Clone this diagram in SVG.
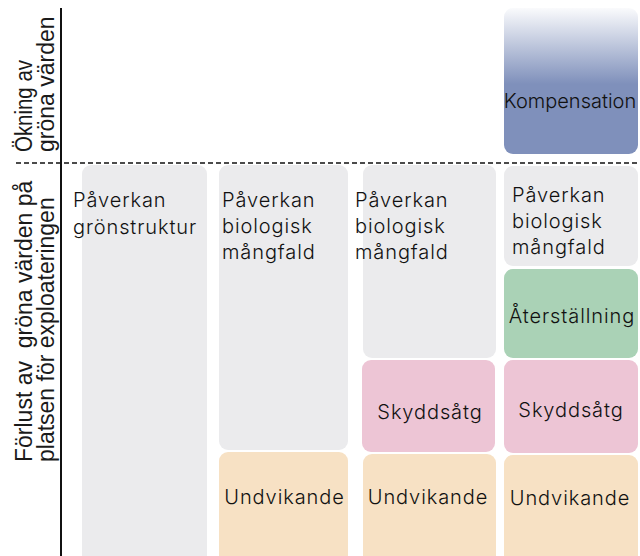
<svg xmlns="http://www.w3.org/2000/svg" width="640" height="556" viewBox="0 0 640 556">
  <style>
    .box { font-family: Inter, "Open Sans", "Liberation Sans", sans-serif; font-size: 20px; font-weight: 300; letter-spacing: 0.9px; fill: #111; }
    .mid { text-anchor: middle; }
    .axis { font-family: "Liberation Sans", Arial, sans-serif; font-size: 23px; fill: #1a1a1a; }
    .gray { fill: #ebebed; }
    .orange { fill: #f7e1c4; }
    .pink { fill: #edc5d5; }
    .green { fill: #aad2b6; }
  </style>
  <defs>
    <linearGradient id="blueGrad" gradientUnits="userSpaceOnUse" x1="0" y1="8" x2="0" y2="84">
      <stop offset="0" stop-color="#7f90bb" stop-opacity="0.04"/>
      <stop offset="1" stop-color="#7f90bb" stop-opacity="1"/>
    </linearGradient>
  </defs>
  <rect width="640" height="556" fill="#ffffff"/>

  <g id="col1">
    <rect class="gray" x="82" y="165" width="125" height="405" rx="9"/>
    <text class="box" x="73" y="207">Påverkan</text>
    <text class="box" x="73" y="234">grönstruktur</text>
  </g>

  <g id="col2-paverkan">
    <rect class="gray" x="219" y="165" width="129" height="285" rx="9"/>
    <text class="box" x="222" y="207">Påverkan</text>
    <text class="box" x="222" y="233">biologisk</text>
    <text class="box" x="222" y="259">mångfald</text>
  </g>
  <g id="col2-undvikande">
    <rect class="orange" x="219" y="452" width="129" height="118" rx="9"/>
    <text class="box mid" x="284.5" y="504">Undvikande</text>
  </g>

  <g id="col3-paverkan">
    <rect class="gray" x="363" y="165" width="133" height="193" rx="9"/>
    <text class="box" x="355" y="207">Påverkan</text>
    <text class="box" x="355" y="233">biologisk</text>
    <text class="box" x="355" y="259">mångfald</text>
  </g>
  <g id="col3-skyddsatg">
    <rect class="pink" x="362" y="360" width="133" height="92" rx="9"/>
    <text class="box mid" x="430" y="419">Skyddsåtg</text>
  </g>
  <g id="col3-undvikande">
    <rect class="orange" x="363" y="454" width="133" height="116" rx="9"/>
    <text class="box mid" x="428" y="504">Undvikande</text>
  </g>

  <g id="col4-kompensation">
    <rect x="504" y="8" width="134" height="146" rx="9" fill="url(#blueGrad)"/>
    <text class="box mid" x="570" y="108" style="letter-spacing:0">Kompensation</text>
  </g>
  <g id="col4-paverkan">
    <rect class="gray" x="504" y="166" width="134" height="100" rx="9"/>
    <text class="box" x="512" y="202">Påverkan</text>
    <text class="box" x="512" y="228">biologisk</text>
    <text class="box" x="512" y="254">mångfald</text>
  </g>
  <g id="col4-aterstallning">
    <rect class="green" x="504" y="269" width="134" height="89" rx="9"/>
    <text class="box mid" x="572" y="323">Återställning</text>
  </g>
  <g id="col4-skyddsatg">
    <rect class="pink" x="504" y="360" width="134" height="93" rx="9"/>
    <text class="box mid" x="571" y="417">Skyddsåtg</text>
  </g>
  <g id="col4-undvikande">
    <rect class="orange" x="504" y="455" width="134" height="115" rx="9"/>
    <text class="box mid" x="570" y="505">Undvikande</text>
  </g>

  <g id="connectors">
    <line x1="61" y1="8" x2="61" y2="556" stroke="#111" stroke-width="2"/>
    <line x1="16" y1="163" x2="640" y2="163" stroke="#111" stroke-width="1.5" stroke-dasharray="5,3"/>
  </g>

  <g id="axis-labels">
    <text class="axis" transform="translate(32,152) rotate(-90)" textLength="92" lengthAdjust="spacingAndGlyphs">Ökning av</text>
    <text class="axis" transform="translate(54,152) rotate(-90)">gröna värden</text>
    <text class="axis" transform="translate(32,462) rotate(-90)" xml:space="preserve">Förlust av  gröna värden på</text>
    <text class="axis" transform="translate(54,462) rotate(-90)">platsen för exploateringen</text>
  </g>
</svg>
